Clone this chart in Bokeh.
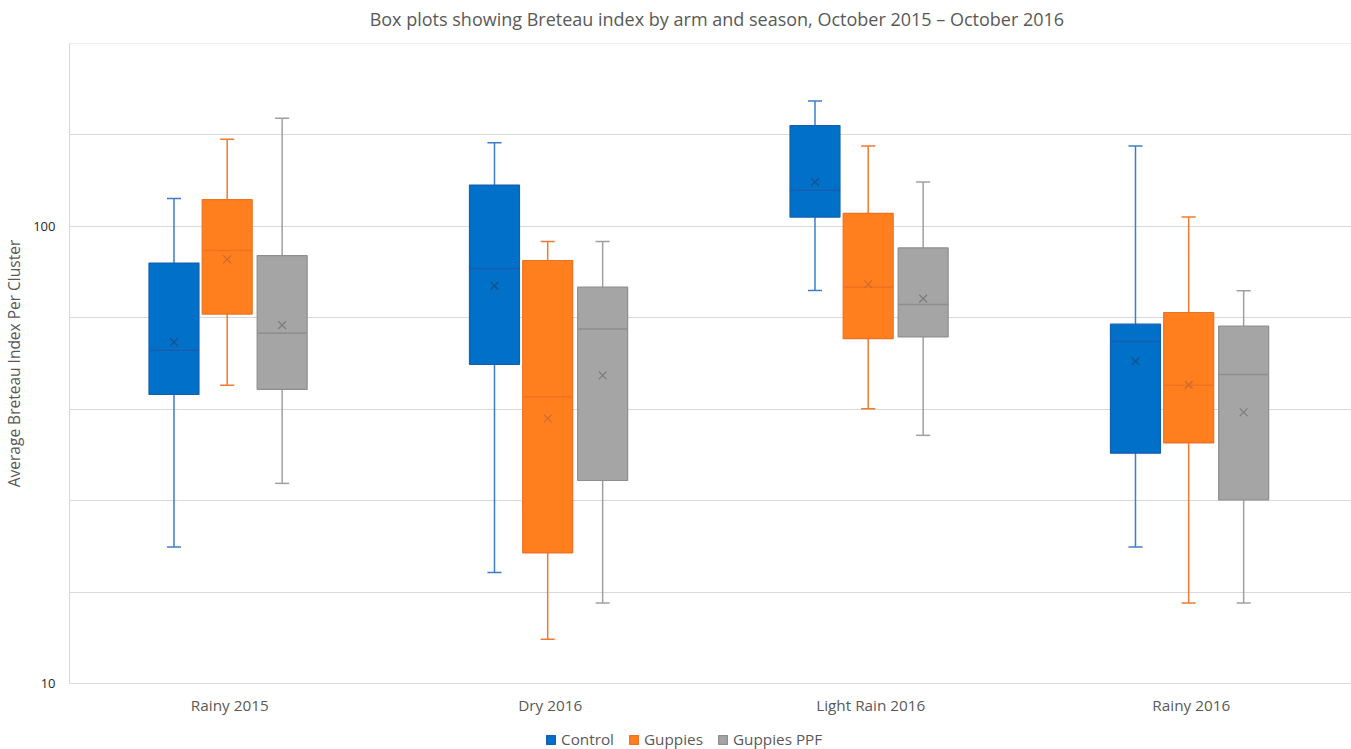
from bokeh.plotting import figure
from bokeh.models import Range1d, FixedTicker, ColumnDataSource, Label
from bokeh.layouts import column
from bokeh.embed import file_html
from bokeh.resources import INLINE

# Seasons and study arms
seasons = ["Rainy 2015", "Dry 2016", "Light Rain 2016", "Rainy 2016"]
arms = ["Control", "Guppies", "Guppies PPF"]

# Breteau index summaries per season (whiskers, quartiles, median, mean)
control_low = [19.9, 17.5, 72.4, 19.9]
control_q1 = [42.9, 49.9, 104.8, 31.9]
control_median = [53.6, 80.9, 119.9, 56.0]
control_mean = [55.8, 74.1, 125.0, 50.7]
control_q3 = [83.1, 123.1, 166.1, 61.1]
control_high = [115.0, 152.4, 188.0, 149.8]

guppies_low = [44.9, 12.5, 39.9, 15.0]
guppies_q1 = [64.3, 19.3, 56.8, 33.6]
guppies_median = [88.5, 42.4, 73.6, 44.9]
guppies_mean = [84.7, 38.0, 74.7, 45.0]
guppies_q3 = [114.4, 84.2, 106.8, 64.8]
guppies_high = [155.0, 92.6, 149.8, 104.8]

ppf_low = [27.4, 15.0, 34.9, 15.0]
ppf_q1 = [44.0, 27.8, 57.3, 25.2]
ppf_median = [58.4, 59.6, 67.5, 47.4]
ppf_mean = [60.8, 47.2, 69.5, 39.2]
ppf_q3 = [86.3, 73.6, 89.7, 60.5]
ppf_high = [172.3, 92.6, 125.0, 72.3]

y_ticks = [10, 100]

TITLE = "Box plots showing Breteau index by arm and season, October 2015 \u2013 October 2016"
FONT = "Open Sans"
TEXT = "#595959"
GRID = "#d9d9d9"


def strip(height):
    """A bare figure used for the title and legend rows."""
    f = figure(
        width=1351, height=height,
        x_range=Range1d(0, 4), y_range=Range1d(0, 1),
        x_axis_location=None, y_axis_location=None,
        output_backend="svg", toolbar_location=None,
        min_border_left=67, min_border_right=0, min_border_top=0, min_border_bottom=0,
    )
    f.outline_line_color = None
    f.background_fill_alpha = 0
    f.xgrid.visible = False
    f.ygrid.visible = False
    return f


# title row
head = strip(42)
head.add_layout(Label(
    x=2.02, y=0.56, text=TITLE, text_align="center", text_baseline="middle",
    text_font=FONT, text_font_size="18px", text_color=TEXT,
))

p = figure(
    width=1351, height=678,
    x_range=Range1d(0, 4), y_range=Range1d(10, 10 ** 2.4),
    y_axis_type="log",
    output_backend="svg", toolbar_location=None,
    min_border_left=67, min_border_right=0,
    min_border_top=1, min_border_bottom=37,
)
p.outline_line_color = None
p.background_fill_color = "white"

# grid: evenly spaced log lines, labels only at decades
p.xgrid.visible = False
p.ygrid.ticker = FixedTicker(ticks=[10 ** (1 + 0.2 * k) for k in range(8)])
p.ygrid.grid_line_color = GRID
p.ygrid.grid_line_width = 1

p.yaxis.ticker = FixedTicker(ticks=y_ticks)
p.yaxis.major_label_overrides = {t: str(t) for t in y_ticks}
p.yaxis.axis_line_color = GRID
p.yaxis.major_tick_line_color = None
p.yaxis.minor_tick_line_color = None
p.yaxis.major_tick_out = 0
p.yaxis.major_label_standoff = 14
p.yaxis.major_label_text_font = FONT
p.yaxis.major_label_text_font_size = "13px"
p.yaxis.major_label_text_color = "#262626"
p.yaxis.axis_label = "Average Breteau Index Per Cluster"
p.yaxis.axis_label_text_font = FONT
p.yaxis.axis_label_text_font_size = "15.5px"
p.yaxis.axis_label_text_font_style = "normal"
p.yaxis.axis_label_text_color = TEXT
p.yaxis.axis_label_standoff = 5

centers = [i + 0.5 for i in range(len(seasons))]
p.xaxis.ticker = FixedTicker(ticks=centers)
p.xaxis.major_label_overrides = {c: s for c, s in zip(centers, seasons)}
p.xaxis.axis_line_color = GRID
p.xaxis.major_tick_line_color = None
p.xaxis.minor_tick_line_color = None
p.xaxis.major_tick_out = 0
p.xaxis.major_label_standoff = 11
p.xaxis.major_label_text_font = FONT
p.xaxis.major_label_text_font_size = "15.3px"
p.xaxis.major_label_text_color = TEXT

box_w = 0.156
cap_w = 0.044
offsets = [-0.174, -0.008, 0.1635]

series = [
    ("Control", control_low, control_q1, control_median, control_mean, control_q3, control_high,
     "#0070C8", "#155fae", "#3f7cc6", "#1b4f8a"),
    ("Guppies", guppies_low, guppies_q1, guppies_median, guppies_mean, guppies_q3, guppies_high,
     "#FF7F1F", "#ee7222", "#f07a30", "#cf6a2e"),
    ("Guppies PPF", ppf_low, ppf_q1, ppf_median, ppf_mean, ppf_q3, ppf_high,
     "#A5A5A5", "#8e8e8e", "#a0a0a0", "#7c7c7c"),
]

# legend row (swatch renderers hidden, legend entries only)
key = strip(29)

for (name, lo, q1, med, mean, q3, hi, fill, edge, whisk, mark), off in zip(series, offsets):
    xs = [c + off for c in centers]
    src = ColumnDataSource(dict(
        x=xs, lo=lo, q1=q1, med=med, mean=mean, q3=q3, hi=hi,
        xl=[x - box_w / 2 for x in xs], xr=[x + box_w / 2 for x in xs],
        cl=[x - cap_w / 2 for x in xs], cr=[x + cap_w / 2 for x in xs],
    ))
    # whiskers and caps
    p.segment(x0="x", y0="q3", x1="x", y1="hi", source=src, line_color=whisk, line_width=1.5)
    p.segment(x0="x", y0="q1", x1="x", y1="lo", source=src, line_color=whisk, line_width=1.5)
    p.segment(x0="cl", y0="hi", x1="cr", y1="hi", source=src, line_color=whisk, line_width=1.5)
    p.segment(x0="cl", y0="lo", x1="cr", y1="lo", source=src, line_color=whisk, line_width=1.5)
    # interquartile box
    p.vbar(x="x", width=box_w, bottom="q1", top="q3", source=src,
           fill_color=fill, line_color=edge, line_width=1.2)
    # median line and mean marker
    p.segment(x0="xl", y0="med", x1="xr", y1="med", source=src, line_color=edge, line_width=1.5)
    p.scatter(x="x", y="mean", source=src, marker="x", size=11,
              line_color=mark, line_width=1.2)
    # legend swatch
    sw = key.vbar(x="x", width=box_w, bottom="q1", top="q3", source=src,
                  fill_color=fill, line_color=edge, line_width=1.2, legend_label=name)
    sw.visible = False

lg = key.legend[0]
lg.orientation = "horizontal"
lg.location = (476, 0)
lg.background_fill_alpha = 0
lg.border_line_color = None
lg.inactive_fill_alpha = 0
lg.padding = 0
lg.margin = 0
lg.spacing = 14
lg.glyph_width = 11
lg.glyph_height = 11
lg.label_standoff = 5
lg.label_height = 11
lg.label_text_font = FONT
lg.label_text_font_size = "15.3px"
lg.label_text_color = TEXT

layout = column(head, p, key, spacing=0)
open("out.html", "w").write(file_html(layout, INLINE))
